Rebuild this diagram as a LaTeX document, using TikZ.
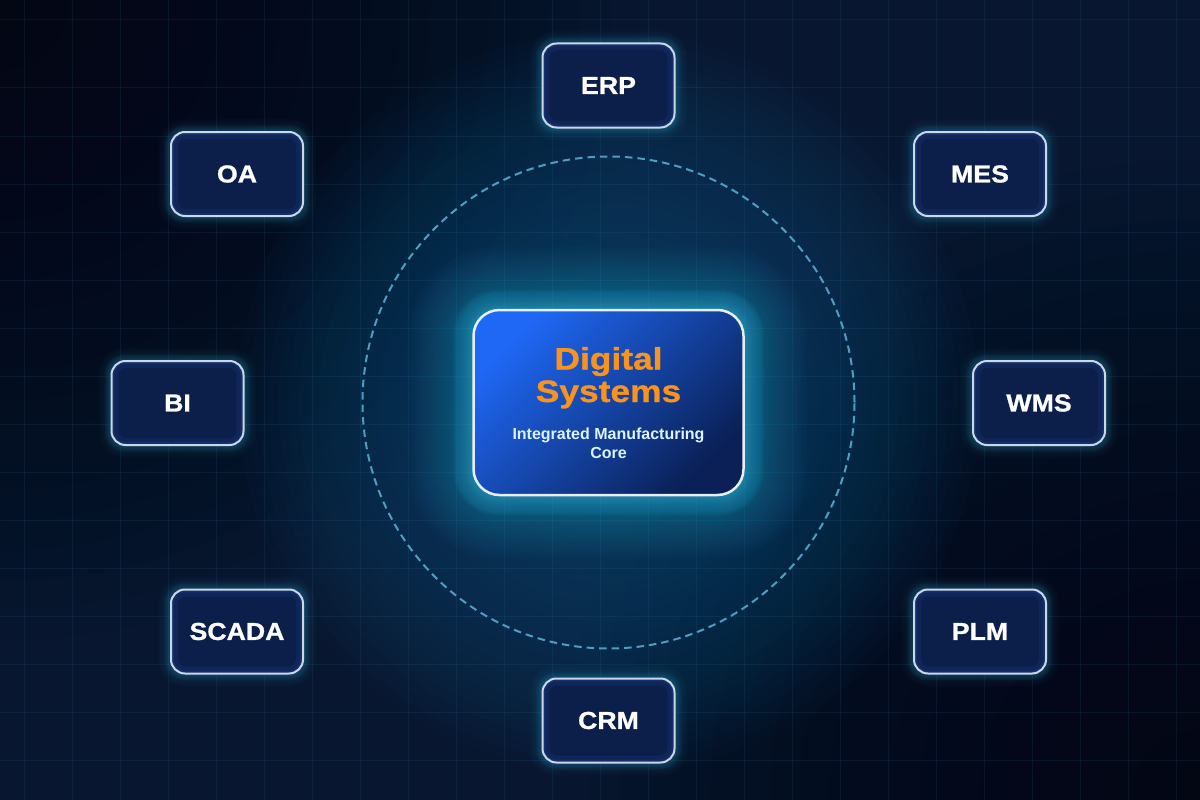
\documentclass[tikz,border=0pt]{standalone}
\usepackage{fontspec}
\setmainfont{Liberation Sans}
\newfontfamily\boxfont{Liberation Sans}[FakeStretch=1.09, FakeBold=1]
\newfontfamily\titlefont{Liberation Sans}[FakeStretch=1.14, FakeBold=1]
\definecolor{bgbase}{HTML}{081630}
\definecolor{bgdark}{HTML}{03070F}
\definecolor{glowbg}{HTML}{0E5078}
\definecolor{gridc}{HTML}{3A8AB8}
\definecolor{glowc}{HTML}{3CC4EC}
\definecolor{boxfill}{HTML}{0C1E4A}
\definecolor{boxedge}{HTML}{CBD8E8}
\definecolor{innerc}{HTML}{1E4088}
\definecolor{coretop}{HTML}{1F68F5}
\definecolor{coremid}{HTML}{0F3DA8}
\definecolor{corebot}{HTML}{0A2056}
\definecolor{coreedge}{HTML}{E8EEF4}
\definecolor{titleor}{HTML}{F7931E}
\definecolor{subc}{HTML}{DDF3FF}
\definecolor{dashc}{HTML}{4E9EC2}
\pgfdeclarelayer{bglayer}
\pgfdeclarelayer{glowlayer}
\pgfsetlayers{bglayer,glowlayer,main}
\begin{document}
\begin{tikzpicture}[x=1pt,y=-1pt,
  outerbox/.style={rounded corners=14pt, minimum width=132pt, minimum height=84pt,
    draw=boxedge, line width=2pt, fill=boxfill, text=white, inner sep=0pt,
    font=\boxfont\bfseries\fontsize{24.5}{24.5}\selectfont,
    path picture={
      \draw[innerc, line width=14pt, opacity=0.25, rounded corners=14pt]
        (path picture bounding box.north west) rectangle (path picture bounding box.south east);
      \draw[innerc, line width=6pt, opacity=0.35, rounded corners=14pt]
        (path picture bounding box.north west) rectangle (path picture bounding box.south east);}},
  corebox/.style={rounded corners=26pt, minimum width=270pt, minimum height=185pt,
    draw=coreedge, line width=2.5pt, top color=coretop, middle color=coremid,
    bottom color=corebot, shading angle=45, inner sep=0pt},
  titletext/.style={text=titleor, inner sep=0pt, anchor=base,
    font=\titlefont\bfseries\fontsize{31}{31}\selectfont},
  subtext/.style={text=subc, inner sep=0pt, anchor=base,
    font=\bfseries\fontsize{16}{16}\selectfont},
  ringstyle/.style={circle, minimum size=492pt, inner sep=0pt, draw=dashc,
    line width=2pt, dash pattern=on 7.5pt off 5pt},
  gridline/.style={draw=gridc, draw opacity=0.11, line width=1pt}
]
\useasboundingbox (0,0) rectangle (1200,800);

% central ring and core
\node[ringstyle] (ring) at (608.5,402.5) {};
\node[corebox] (core) at (608.5,402.5) {};
\node[titletext] (t1) at (608.5,369.5) {Digital};
\node[titletext] (t2) at (608.5,402) {Systems};
\node[subtext] (s1) at (608.5,439.5) {Integrated Manufacturing};
\node[subtext] (s2) at (608.5,458.5) {Core};

% outer systems
\node[outerbox] (erp)   at (608.5,85.5)  {ERP};
\node[outerbox] (oa)    at (237,174)     {OA};
\node[outerbox] (mes)   at (980,174)     {MES};
\node[outerbox] (bi)    at (177.5,403)   {BI};
\node[outerbox] (wms)   at (1039,403)    {WMS};
\node[outerbox] (scada) at (237,631.5)   {SCADA};
\node[outerbox] (plm)   at (980,631.5)   {PLM};
\node[outerbox] (crm)   at (608.5,720.5) {CRM};

\begin{pgfonlayer}{bglayer}
  \fill[bgbase] (0,0) rectangle (1200,800);
  \foreach \r in {640,610,...,40} {
    \fill[bgdark, fill opacity=0.05] (0,0) circle (\r);
    \fill[bgdark, fill opacity=0.05] (1200,800) circle (\r);
  }
  \foreach \r in {370,360,...,100}
    \fill[glowbg, fill opacity=0.045] (core.center) circle (\r);
  \foreach \gx in {24,72,...,1176} \draw[gridline] (\gx,0) -- (\gx,800);
  \foreach \gy in {88,136,...,760} \draw[gridline] (0,\gy) -- (1200,\gy);
  \draw[gridline] (0,20) -- (1200,20);
\end{pgfonlayer}

\begin{pgfonlayer}{glowlayer}
  \foreach \d [evaluate=\d as \r using 26+\d] in {1,2,...,20}
    \fill[glowc, fill opacity=0.03, rounded corners=\r pt]
      ([xshift=-\d pt, yshift=\d pt]core.north west) rectangle ([xshift=\d pt, yshift=-\d pt]core.south east);
  \foreach \d [evaluate=\d as \r using 26+\d] in {23,26,...,62}
    \fill[glowc, fill opacity=0.018, rounded corners=\r pt]
      ([xshift=-\d pt, yshift=\d pt]core.north west) rectangle ([xshift=\d pt, yshift=-\d pt]core.south east);
  \foreach \n in {erp,oa,mes,bi,wms,scada,plm,crm} {
    \foreach \d [evaluate=\d as \r using 14+\d] in {1,2,...,6}
      \fill[glowc, fill opacity=0.04, rounded corners=\r pt]
        ([xshift=-\d pt, yshift=\d pt]\n.north west) rectangle ([xshift=\d pt, yshift=-\d pt]\n.south east);
    \foreach \d [evaluate=\d as \r using 14+\d] in {8,10,12}
      \fill[glowc, fill opacity=0.018, rounded corners=\r pt]
        ([xshift=-\d pt, yshift=\d pt]\n.north west) rectangle ([xshift=\d pt, yshift=-\d pt]\n.south east);
  }
\end{pgfonlayer}
\end{tikzpicture}
\end{document}
